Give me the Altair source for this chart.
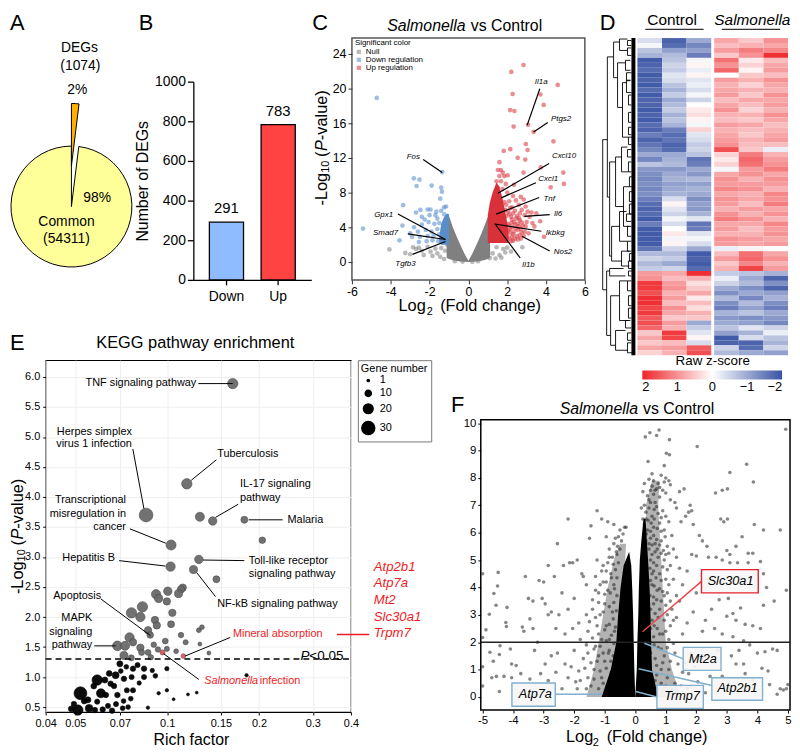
import altair as alt
import pandas as pd

FONT = "Liberation Sans"
ONE = alt.Data(values=[{}])

# ---------- A
pie_start = [0, 1074]
pie_end = [1074, 55385]
# ---------- B
deg_names = ["Down", "Up"]
deg_counts = [291, 783]
# ---------- C
c_up = [(2.84,22.7),(2.21,21.9),(4.6,20.4),(2.28,19.35),(3.71,19.3),(3.88,18.1),(2.15,17.5),(2.37,17.4),(2.33,15.6),(3.07,15.8),(3.36,15.0),(4.38,13.9),(2.96,13.6),(2.16,13.0),(1.82,12.8),(3.05,12.9),(2.54,12.0),(2.93,11.8),(1.6,11.5),(3.73,10.9),(2.84,10.3),(4.89,10.3),(4.92,9.0),(4.24,8.6),
(1.52,10.6),(1.68,10.6),(1.77,10.3),(1.6,9.9),(1.85,9.9),(2.02,10.0),(1.45,9.3),(1.68,9.3),(1.93,9.0),(2.35,8.9),(1.5,8.6),(1.75,8.4),(1.42,8.2),(2.0,8.0),(2.3,7.6),(2.45,7.1),(2.7,7.5),(2.85,7.2),(2.1,7.0),(1.85,6.9),(2.6,6.6),(2.95,6.4),(2.25,6.3),(1.9,6.0),(2.4,5.9),(2.75,6.0),(3.05,5.8),(3.25,5.7),(3.5,5.6),(2.1,5.5),(2.5,5.3),(2.9,5.4),(3.15,5.2),(1.85,5.0),(2.25,4.9),(2.65,4.8),(3.0,4.6),(3.3,4.5),(3.7,4.7),(2.0,4.4),(2.4,4.3),(2.8,4.2),(1.8,3.9),(2.15,3.8),(2.55,3.7),(2.9,3.5),(3.1,3.3),(1.9,3.3),(2.3,3.2),(2.65,3.1),(2.85,3.0),(3.9,2.9),(2.0,2.8),(2.4,2.7),(1.75,2.6),(2.2,2.4),(1.85,4.6),(2.6,4.1),(2.05,3.6),(2.45,5.0),(1.75,5.4),(3.4,4.1),(2.75,3.4),(1.95,2.45),(2.55,2.6),
(1.95,6.6),(2.15,6.2),(2.05,5.8),(2.3,5.6),(2.65,5.6),(1.95,5.3),(2.2,5.2),(2.35,4.6),(2.55,4.4),(2.1,4.2),(2.25,4.0),(2.45,3.9),(2.7,3.8),(2.0,3.1),(2.15,3.4),(2.35,3.5),(2.5,3.0),(2.1,2.7),(2.25,2.9),(1.85,2.9),(2.3,2.45),(2.7,2.7),(1.7,3.5),(1.7,4.3),(1.7,5.1),(1.9,4.2),(2.75,4.55),(2.95,4.1),(2.6,5.05),(2.2,4.5)]
c_down = [(-4.72,18.9),(-1.35,10.36),(-2.81,9.64),(-2.52,9.49),(-2.67,8.76),(-1.89,8.8),(-1.4,8.57),(-1.36,8.1),(-1.45,7.3),(-3.36,6.55),(-2.47,6.0),(-2.1,6.05),(-1.95,6.05),(-1.4,5.9),(-1.65,5.8),(-1.25,6.3),(-1.15,6.4),(-2.7,5.7),(-2.4,5.2),(-2.0,5.4),(-1.6,5.0),(-5.43,3.85),(-3.4,4.2),(-2.8,4.0),(-2.4,4.3),(-2.05,4.6),(-1.75,4.4),(-1.5,4.5),(-3.0,3.3),(-2.6,3.5),(-2.2,3.7),(-1.9,3.5),(-1.6,3.8),(-3.55,2.5),(-2.9,2.9),(-2.5,2.9),(-2.1,3.0),(-1.8,3.0),(-1.5,3.2),(-2.55,2.3),(-2.15,2.4),(-1.85,2.5),(-1.55,2.4),(-1.7,5.4),(-2.25,4.9),(-1.25,5.5)]
c_null = [(-4.07,1.45),(-3.25,1.05),(-3.0,0.9),(-2.85,1.7),(-2.7,1.5),(-2.55,1.65),(-2.4,1.3),(-2.3,0.8),(-2.1,1.75),(-1.95,1.2),(-1.85,0.7),(-1.7,1.55),(-1.6,1.0),(-1.45,0.6),(-1.4,1.6),(-1.25,0.35),(-1.2,1.3),(-1.1,2.0),(1.1,0.45),(1.25,1.0),(1.4,0.4),(1.45,1.7),(1.6,0.8),(1.8,1.5),(1.9,1.1),(2.0,1.65),(2.2,1.2),(2.78,1.7),(1.7,0.5),(0.2,0.02),(-0.3,0.05),(0.5,0.1),(-0.7,0.1)]
c_null_x = [-1.12,-1.0,-0.8,-0.6,-0.4,-0.2,0.0,0.2,0.4,0.6,0.8,1.0,1.12]
c_null_top = [4.6,5.3,4.0,2.9,1.9,0.95,0.15,0.95,1.9,2.9,4.0,5.2,4.7]
c_null_bot = [0.5,0.35,0.2,0.12,0.06,0.02,0.0,0.02,0.06,0.12,0.2,0.35,0.5]
c_red_x = [1.0,1.1,1.25,1.45,1.6,1.75,1.9,2.05]
c_red_top = [5.4,6.8,8.0,9.2,8.6,7.4,5.8,3.8]
c_red_bot = [2.2,2.2,2.2,2.2,2.2,2.2,2.2,2.2]
c_blue_x = [-1.5,-1.4,-1.25,-1.1,-1.0]
c_blue_top = [2.9,4.4,5.2,5.6,5.5]
c_blue_bot = [2.2,2.0,2.0,2.0,2.0]
c_leaders = [(3.68,19.96,3.03,15.77),(4.09,16.08,3.36,14.97),(-2.33,11.81,-1.35,10.32),(4.16,11.35,1.52,7.92),(3.48,9.14,1.69,7.39),(3.65,7.43,1.43,5.52),(4.19,5.45,2.88,5.26),(3.76,3.54,1.35,4.38),(4.19,1.26,2.76,2.97),(2.67,0.46,1.38,4.38),(-3.63,5.52,-1.18,2.59),(-3.12,3.24,-1.18,2.59),(-2.88,0.88,-1.18,2.36)]
# ---------- D
hm_c1 = [-0.4,-0.1,-0.7,-0.9,-1.9,-1.8,-1.7,-1.9,-1.8,-1.9,-1.7,-1.9,-1.8,-1.8,-1.9,-1.8,-1.9,-1.7,-1.8,-1.5,-1.8,-1.6,-1.4,-1.0,-1.4,-0.7,-1.2,-1.3,-1.4,-1.3,-1.4,-1.3,-1.5,-1.7,-1.8,-1.7,-1.9,-1.5,-1.9,-1.9,-1.9,-1.9,-1.6,-0.8,-0.5,-0.8,-0.6,0.9,1.0,1.8,1.8,1.6,1.9,1.9,1.7,1.8,1.5,1.6,1.4,0.5,0.8,0.5,0.8,0.4]
hm_c2 = [-1.8,-1.7,-1.1,-0.8,-0.7,-0.5,-0.6,-0.3,-0.4,-0.7,-0.9,-0.6,-1.0,-0.8,-0.6,-0.9,-0.7,-0.9,-1.5,-1.7,-1.6,-1.8,-1.7,-1.0,-0.9,-0.8,-1.2,-1.0,-0.9,-1.1,-1.0,-0.9,-0.4,0.1,-0.3,-0.5,-0.1,-0.4,0.0,0.2,-0.1,0.1,-0.5,-0.8,-0.6,-1.0,-0.5,0.8,0.6,0.9,1.0,0.7,0.9,0.6,1.0,0.8,0.5,0.9,0.7,1.8,1.7,0.6,0.9,0.7]
hm_c3 = [-1.0,-1.4,-1.1,-1.5,-0.1,0.1,-0.2,0.1,-0.3,-0.2,-0.4,-0.1,-0.5,0.0,0.2,0.3,0.1,-0.1,0.4,-0.3,-0.4,-0.6,-0.5,-0.7,-1.6,-1.5,-1.0,-1.2,-0.8,-1.1,-0.9,-1.0,-1.3,-1.1,-1.2,-0.9,-0.3,-1.6,-1.5,-0.3,-0.1,-0.4,-1.0,-1.9,-1.8,-1.9,-1.7,1.9,0.7,0.3,0.5,0.8,0.2,0.6,0.3,0.7,0.5,-1.0,-0.6,-0.3,0.1,-0.4,1.5,1.6]
hm_s1 = [0.8,0.6,0.9,0.5,1.3,1.0,1.4,0.0,0.9,0.7,0.8,0.9,0.6,0.8,1.0,0.7,0.6,0.9,0.7,0.8,0.9,1.0,1.6,0.4,0.2,0.4,-0.1,0.8,1.0,0.9,1.1,0.8,1.0,0.9,0.7,1.0,1.2,0.8,0.9,0.7,1.0,0.9,-0.2,0.6,0.9,0.5,0.7,-0.6,-0.2,-0.5,-1.0,-1.3,-0.8,-1.3,-1.5,-0.9,-1.2,-1.0,-0.7,-1.1,-1.9,-1.8,-0.5,-0.8]
hm_s2 = [0.5,0.7,1.2,1.0,0.2,0.4,0.1,0.5,0.7,0.4,0.7,0.5,0.8,0.6,0.4,0.7,0.5,0.8,0.6,0.5,0.7,0.6,0.5,1.2,1.4,1.3,0.9,1.0,0.7,0.9,1.0,0.7,0.8,0.6,0.9,0.7,1.0,0.8,0.6,0.7,0.9,0.8,0.1,1.3,1.4,1.1,1.7,-0.7,-1.0,-0.8,-1.3,-1.0,-1.4,-0.8,-1.1,-0.7,-1.3,-1.1,-0.3,-0.9,-0.4,-1.8,-1.7,-1.0]
hm_s3 = [1.0,0.8,1.1,1.9,0.6,0.8,0.9,0.6,1.0,0.8,0.7,1.0,0.8,0.9,0.7,1.0,0.8,0.6,0.7,0.8,0.9,0.6,-0.2,0.7,0.9,1.0,1.2,0.8,1.0,0.9,0.7,1.1,1.0,1.2,0.8,1.0,0.7,1.1,0.9,1.0,0.8,0.9,0.0,0.8,1.0,0.7,0.9,-0.9,-1.8,-1.3,-1.8,-1.1,-0.9,-1.3,-1.5,-1.0,-1.2,-1.4,-0.5,-0.2,-0.7,-0.9,-0.5,-1.1]
dendro = [(35,20.5,50.8,30.3,31),(30.3,3.8,32.1,24,28),(24,0.8,8,18,20),(18,0.2,2.5,10,10),(20,5,14,12,15),(15,9,20,11,9),(28,25,44,22,26),(22,24,34,16,14),(16,22,27,10,9),(14,30,38,8,8),(26,38,45,18,16),(18,35,41,11,10),(16,43,46,8,8),(31,47,60,28,27),(28,46.5,48,14,12),(27,52,62,18,22),(18,49,57,10,9),(22,59,63,12,10),
(10,0.5,1.5,6,6),(10,2,3.5,6,6),(12,4.5,6.5,7,7),(11,7,8.6,6,7),(11,8.5,11,7,6),(9,11.5,13.5,6,6),(9,15,17,6,6),(9,18,19.5,6,6),(9,20,21.5,5,6),(10,22.5,24,6,6),(9,25,27,6,6),(8,28,30,5,5),(8,31,33,5,5),(8,33.5,35.5,5,5),(11,35.5,37,6,6),(10,38,40,6,6),(10,41,43,6,6),(8,43.5,45,5,5),(9,45,46.5,5,5),(9,47,48,5,6),(10,49,51,6,6),(9,52,54,5,6),(9,54.5,56.5,5,6),(12,57,58.5,7,6),(10,59.5,61,6,6),(10,61.5,63.5,6,5)]
# ---------- E
kegg_x = [.164,.116,.0853,.128,.141,.179,.205,.103,.127,.1026,.122,.145,.1125,.111,.109,.1005,.092,.0938,.0998,.083,.0764,.0817,.104,.103,.0912,.0925,.0866,.088,.0753,.127,.13,.111,.115,.0986,.128,.137,.107,.0998,.0904,.0933,.0687,.0728,.0773,.0817,.0866,.0884,.0722,.0763,.0825]
kegg_y = [5.89,4.22,3.70,3.67,3.60,3.62,3.28,3.20,2.96,2.84,2.79,2.63,2.49,2.46,2.39,2.43,2.38,2.31,2.26,2.17,2.07,2.0,2.07,1.88,1.95,1.86,1.78,1.70,1.66,1.78,1.83,1.70,1.58,1.60,1.55,1.40,1.43,1.47,1.54,1.46,1.52,1.52,1.58,1.49,1.41,1.33,1.36,1.32,1.41]
kegg_n = [22,22,33,18,16,12,11,21,16,19,15,12,13,13,15,16,19,16,13,22,22,19,13,12,13,13,13,11,19,6,6,8,7,9,4,4,6,7,8,8,20,18,13,13,9,8,15,10,10]
red_x = [.0966,.113]
red_y = [1.41,1.35]
red_n = [7,6]
black_x = [.052,.051,.059,.0555,.0607,.0646,.0678,.07,.0773,.084,.0722,.0653,.063,.059,.0687,.0738,.0773,.084,.0915,.0894,.0998,.0938,.0998,.105,.117,.125,.0865,.182,.0765,.08,.0735,.0705,.067,.0625,.0575,.055,.0535,.0485,.0495,.058,.064,.068,.072,.076,.081,.0745,.0715,.066,.0615]
black_y = [.73,.45,.95,.48,.73,1.06,1.03,1.22,1.14,1.14,.97,.89,.70,.59,.70,.78,.78,1.0,1.02,1.11,1.14,.73,.78,.63,.71,.74,.49,1.03,1.0,1.2,1.17,1.1,.85,.95,.85,.62,.6,.47,.55,.45,.52,.55,.6,.64,.9,.5,.48,.44,.46]
black_n = [30,22,22,14,18,9,12,10,8,8,8,8,8,7,8,7,7,7,6,5,5,3,3,2,2,2,3,3,7,7,6,6,8,10,9,10,9,9,8,8,7,7,6,6,5,6,6,8,8]
legend_n = [1,10,20,30]
e_leaders = [(.1265,5.89,.164,5.89),(.0772,4.80,.0839,3.81),(.145,4.62,.12,4.28),(.171,3.88,.144,3.66),(.185,3.62,.239,3.62),(.0755,3.47,.099,3.23),(.0696,2.94,.0986,2.85),(.131,2.95,.179,2.94),(.125,2.74,.144,2.34),(.0607,2.30,.0882,1.69),(.0577,1.52,.0678,1.52),(.0973,1.39,.127,.96),(.1145,1.35,.161,1.66)]
# ---------- F
f_pts = [(0.33,9.5),(0.48,9.65),(0.7,9.55),(0.78,9.75),(1.12,9.4),(1.02,8.9),(1.12,8.85),(2.03,9.15),(4.93,9.78),(0.42,8.6),(0.95,8.45),(3.65,8.5),(3.87,7.85),(3.1,8.2),(0.55,8.15),(0.85,8.1),(1.0,8.0),(1.1,7.9),(1.6,7.6),(1.45,7.5),(2.63,7.45),(2.85,7.55),(3.02,7.6),(1.85,6.8),(1.8,7.0),(0.6,7.9),(0.75,7.8),(0.95,7.85),(1.15,7.75),(0.25,7.5),(0.4,7.35),(0.6,7.4),(0.8,7.3),(1.15,7.2),(1.3,7.1),(1.35,6.9),(1.65,6.6),(1.75,6.75),(2.8,6.5),(3.02,6.5),(2.9,6.4),(3.9,6.3),(4.75,6.1),(4.2,6.1),(1.5,6.4),(1.9,6.3),(2.1,5.9),(2.2,5.7),(2.35,5.5),(3.5,5.85),(3.3,5.5),(3.0,5.35),(3.1,5.2),(3.7,5.25),(3.85,5.25),(1.85,5.2),(2.0,5.15),(2.4,5.1),(2.65,5.1),(2.85,5.0),(3.1,4.9),(3.35,4.9),(3.7,4.9),(4.1,4.95),(4.2,4.5),(4.3,4.0),(4.95,3.9),(4.55,3.5),(4.2,3.35),(3.05,3.6),(3.2,3.05),(2.75,3.55),(3.45,3.25),(3.0,2.95),(3.3,2.8),(3.6,2.65),(3.85,2.6),(4.1,2.5),(1.7,4.6),(2.4,4.3),(1.55,4.1),(2.0,3.8),(1.45,3.5),(2.5,3.2),(2.3,2.8),(2.6,2.5),(2.2,2.4),(2.85,2.3),(1.9,3.1),(1.7,2.7),(1.35,2.9),(1.55,2.3),(3.2,2.2),(3.55,2.05),(3.4,1.7),(3.75,1.9),(4.0,1.6),(4.25,1.65),(4.15,1.05),(4.35,0.95),(4.5,1.75),(4.65,1.7),(3.15,1.5),(3.3,1.2),(3.55,1.2),(3.6,0.85),(3.85,0.6),(4.4,0.45),(4.65,0.1),(4.95,0.3),(5.0,0.45),(4.85,0.25),(4.75,0.3),(2.7,1.7),(2.2,1.4),(1.3,1.6),(1.4,1.2),(1.55,0.9),(1.3,0.5),(2.45,0.75),(2.85,0.75),(3.05,0.3),(2.3,0.15),
(-5.0,4.5),(-4.49,4.55),(-4.63,3.78),(-4.51,4.05),(-4.56,3.35),(-4.2,3.27),(-4.78,3.02),(-4.24,2.72),(-4.22,2.57),(-4.89,2.45),(-5.0,2.17),(-4.43,1.87),(-4.76,1.63),(-4.09,1.75),(-4.65,1.3),(-4.45,1.55),(-5.0,1.1),(-4.05,1.2),(-3.9,1.15),(-4.7,0.7),(-4.55,0.75),(-4.3,0.75),(-4.05,0.7),(-3.75,0.85),(-4.45,0.2),(-3.45,0.65),(-3.75,0.15),(-5.0,0.4),(-3.7,2.55),(-3.65,2.4),(-3.6,4.4),(-3.5,3.6),(-3.45,2.85),(-3.35,3.5),(-3.35,2.5),(-3.2,2.0),(-3.0,4.2),(-3.15,4.25),(-3.05,3.6),(-2.95,3.4),(-2.85,3.0),(-2.75,3.1),(-2.85,4.8),(-2.65,4.4),(-2.35,4.8),(-2.55,5.6),(-2.2,6.5),(-2.15,4.9),(-2.05,4.9),(-1.9,5.0),(-1.75,4.5),(-1.7,4.4),(-2.5,3.0),(-2.4,3.8),(-2.2,3.2),(-2.0,3.6),(-1.85,2.7),(-2.6,2.5),(-2.3,2.3),(-2.05,2.5),(-1.6,4.1),(-1.5,5.8),(-1.45,6.25),(-1.25,6.8),(-1.1,6.5),(-0.9,6.4),(-0.7,6.3),(-0.95,5.85),(-1.25,5.0),(-1.3,4.4),(-1.05,4.8),(-0.85,5.4),(-0.65,5.8),(-0.5,6.1),(-0.3,6.2),(-0.75,5.1),(-1.6,3.0),(-1.4,3.2),(-1.2,3.8),(-1.55,2.4),(-1.25,2.6),(-1.7,1.4),(-2.0,1.7),(-2.3,1.2),(-2.55,1.6),(-2.75,1.5),(-2.95,1.2),(-3.3,1.7),(-3.1,0.85),(-2.85,0.6),(-2.6,0.9),(-2.2,0.7),(-1.85,0.95),(-1.55,0.7),(-1.45,0.4),(-1.9,0.3),(-2.4,0.3),(-1.2,1.5),(-1.0,1.3),(-1.05,0.5),(-1.0,3.4),(-0.95,2.6),(-0.9,3.9),(-0.85,2.1),(-0.8,4.5),(-0.75,3.1),(-1.1,2.1),(-1.05,4.2),(-0.95,4.6),(-0.7,4.1),(-0.68,2.4),(-0.62,5.3),(-0.58,5.5),(-0.5,5.4),(-0.88,1.6),(-0.78,0.9),(-0.92,0.4),(-0.72,1.5),(-1.15,3.0),(-1.35,1.0),(-1.6,1.9),(-1.8,2.1),
(0.45,6.9),(0.55,6.6),(0.7,6.95),(0.9,6.8),(1.0,6.6),(0.6,6.2),(0.8,6.35),(0.95,6.1),(1.1,6.4),(1.2,5.9),(0.5,5.8),(0.65,5.6),(0.85,5.7),(1.05,5.5),(1.25,5.4),(0.55,5.2),(0.75,5.1),(0.95,5.0),(1.15,4.8),(1.35,5.1),(0.6,4.6),(0.8,4.5),(1.0,4.3),(1.25,4.3),(1.45,4.7),(0.55,4.1),(0.72,3.9),(0.95,3.7),(1.15,3.5),(1.35,3.7),(0.6,3.4),(0.8,3.2),(1.05,3.0),(1.25,2.8),(0.55,2.8),(0.72,2.5),(0.9,2.3),(1.1,2.1),(0.6,2.2),(0.75,1.8),(0.95,1.5),(1.15,1.3),(0.65,1.4),(0.85,1.0),(1.05,0.7),(0.7,0.8),(0.45,7.2),(0.65,7.1),(0.3,7.0),(0.5,7.55),(0.7,7.6),(0.35,6.5),(0.4,6.1),(0.45,5.6),(0.3,6.0),(0.25,6.5),(0.2,6.9),(0.35,5.7),
(0.3,7.8),(0.45,7.95),(0.55,7.7),(0.65,7.55),(0.8,7.65),(0.9,7.55),(1.0,7.45),(0.5,7.1),(0.62,6.85),(0.75,6.7),(0.85,6.55),(0.35,6.75),(0.42,6.45),(0.52,6.35),(0.62,6.5),(0.72,6.15),(0.85,6.05),(0.98,5.85),(0.3,6.3),(0.36,5.95),(0.5,6.05),(0.6,5.9),(0.7,5.75),(0.8,5.55),(0.92,5.35),(1.1,5.25),(0.45,5.4),(0.55,5.55),(0.65,5.3),(0.72,5.4),(0.85,5.25),(1.0,5.2),(0.5,5.0),(0.6,4.9),(0.7,4.8),(0.9,4.75),(1.05,4.65),(0.48,4.7),(0.55,4.5),(0.68,4.35),(0.85,4.25),(1.1,4.1),(0.5,4.25),(0.62,4.05),(0.8,3.95),(0.9,3.85),(1.05,3.8),(0.48,3.7),(0.6,3.65),(0.7,3.55),(0.85,3.5),(1.0,3.35),(1.2,3.2),(0.5,3.2),(0.65,3.05),(0.75,2.9),(0.95,2.8),(1.15,2.6),(0.5,2.5),(0.62,2.6),(0.8,2.3),(1.0,2.4),(0.5,2.0),(0.62,1.9),(0.85,1.75),(1.05,1.8),(1.25,1.95),(0.5,1.6),(0.7,1.15),(0.9,1.25),(1.1,1.0),(1.0,0.4),(0.85,0.5),(0.75,0.3),(1.2,0.25),(0.65,0.6),(1.35,0.2),(1.5,0.4),(1.7,0.3),(1.75,0.85),(1.65,1.25),(1.8,1.6),(1.95,1.1),(2.05,0.55),
(-0.35,6.2),(-0.4,5.95),(-0.55,5.85),(-0.7,5.6),(-0.85,5.1),(-0.45,5.7),(-0.6,5.2),(-0.72,4.85),(-0.9,4.9),(-1.1,4.6),(-0.55,4.9),(-0.65,4.65),(-0.78,4.35),(-0.95,4.2),(-1.15,4.1),(-1.3,3.9),(-0.6,4.35),(-0.68,3.95),(-0.82,3.8),(-1.0,3.75),(-1.2,3.45),(-1.4,3.55),(-0.6,3.7),(-0.7,3.45),(-0.85,3.3),(-1.05,3.1),(-1.3,2.9),(-1.5,2.75),(-0.62,3.15),(-0.72,2.85),(-0.85,2.65),(-1.0,2.45),(-1.2,2.3),(-1.4,2.15),(-0.65,2.55),(-0.78,2.25),(-0.95,2.05),(-1.15,1.85),(-1.35,1.75),(-1.55,1.6),(-0.7,1.95),(-0.85,1.7),(-1.05,1.6),(-1.25,1.3),(-1.45,1.25),(-0.8,1.3),(-0.95,1.05),(-1.15,0.95),(-1.35,0.65),(-1.65,1.05),(-1.8,0.6),(-1.6,0.3),(-1.2,0.3),(-2.1,1.1),(-1.95,0.55),(-1.3,1.85),(-1.1,0.7)]
f_l_y = [0,1,2,3,4,4.8,5.3]
f_l_a = [-1.1,-0.8,-0.62,-0.56,-0.48,-0.38,-0.2]
f_l_b = [0,-0.03,-0.05,-0.07,-0.1,-0.13,-0.2]
f_r_y = [0,1,2,3,4,5,5.7,6.5]
f_r_a = [0,0.05,0.07,0.1,0.12,0.15,0.2,0.27]
f_r_b = [0.75,0.55,0.52,0.5,0.47,0.42,0.38,0.34]
f_ml_y = [0,1,2,3,4,5,5.6]
f_ml_a = [-1.6,-1.35,-1.2,-1.05,-0.9,-0.7,-0.5]
f_ml_b = [-0.9,-0.7,-0.55,-0.5,-0.42,-0.33,-0.3]
f_mr_y = [0,1,2,3,4,5,6,7,7.9]
f_mr_a = [0.5,0.45,0.44,0.42,0.4,0.38,0.36,0.35,0.55]
f_mr_b = [1.5,1.2,1.0,0.95,0.9,0.85,0.8,0.75,0.8]
f_boxes_blue = [(1.57,1.81,2.81,0.97),(2.51,0.70,4.17,-0.12),(0.71,0.42,2.23,-0.42),(-4.04,0.51,-2.62,-0.34)]
f_box_red = [(2.17,4.65,4.03,3.80)]
f_lines_blue = [(1.57,1.39,0.30,1.96),(2.51,0.42,0.11,1.03),(0.71,0,0.02,0.2),(-2.62,0.10,-1.08,0.10)]
f_lines_red = [(2.18,4.23,0.24,2.38)]


def T(text, x, y, size=11, align="center", color="black", style="normal", angle=0, baseline="middle"):
    return alt.Chart(ONE).mark_text(text=text, align=align, baseline=baseline, fontSize=size, font=FONT,
                                    fontStyle=style, color=color, angle=angle).encode(x=alt.value(x), y=alt.value(y))


def tab(**k):
    return pd.DataFrame(k)


def segs(rows):
    return pd.DataFrame(rows, columns=["x", "y", "x2", "y2"])


def lines(rows, X, Y, color="black", w=1.0, dash=None):
    kw = {"strokeDash": dash} if dash else {}
    return alt.Chart(segs(rows)).mark_rule(color=color, strokeWidth=w, **kw).encode(
        x=X("x"), x2="x2:Q", y=Y("y"), y2="y2:Q")


def spacer(w, h=10):
    return alt.Chart(ONE).mark_point(opacity=0, size=1).encode(x=alt.value(3), y=alt.value(3)).properties(width=w, height=h)


def chan(cls, scale, axis):
    return lambda field: cls(field + ":Q", scale=scale, axis=axis)


# ---- Panel A
th = alt.Scale(domain=[0, pie_end[1]], range=[0, 6.28318])
pie_big = alt.Chart(tab(a=[pie_end[0]], b=[pie_end[1]])).mark_arc(radius=61, color="#ffff99", stroke="black", strokeWidth=1).encode(
    theta=alt.Theta("a:Q", scale=th), theta2="b:Q", x=alt.value(62), y=alt.value(170))
pie_small = alt.Chart(tab(a=[pie_start[0]], b=[pie_end[0]])).mark_arc(radius=63, color="#ffb000", stroke="black", strokeWidth=1).encode(
    theta=alt.Theta("a:Q", scale=th), theta2="b:Q", x=alt.value(62), y=alt.value(129))
A = alt.layer(pie_big, pie_small, T("A", 0, -15, 22, "left"), T("DEGs", 70, 10, 14), T("(1074)", 71, 28, 14), T("2%", 68, 52, 14),
              T("98%", 88, 161, 14), T("Common", 57, 186, 14), T("(54311)", 57, 203, 14)).properties(width=185, height=244)

# ---- Panel B
bdf = tab(name=deg_names, n=deg_counts)
bx = alt.X("name:N", scale=alt.Scale(domain=deg_names, paddingInner=0.34, paddingOuter=0.31),
           axis=alt.Axis(title=None, labelAngle=0, labelFontSize=14, labelColor="black", tickColor="black", domainColor="black",
                         domainWidth=1.3, tickWidth=1.3, tickSize=5, labelPadding=5, labelFont=FONT))
by = alt.Y("n:Q", scale=alt.Scale(domain=[0, 1000], range=[244, 44]),
           axis=alt.Axis(title="Number of DEGs", values=[0, 200, 400, 600, 800, 1000], grid=False, labelFontSize=14, labelColor="black",
                         tickColor="black", domainColor="black", domainWidth=1.3, tickWidth=1.3, tickSize=6, titleFontSize=16,
                         titleFontWeight="normal", titleColor="black", titlePadding=4, labelFont=FONT, titleFont=FONT, labelPadding=2,
                         format="d"))
bars = alt.Chart(bdf).mark_bar(stroke="black", strokeWidth=1.3).encode(
    x=bx, y=by, color=alt.Color("name:N", scale=alt.Scale(domain=deg_names, range=["#8fbcff", "#ff4242"]), legend=None))
blab = alt.Chart(bdf).mark_text(dy=-14, fontSize=15, font=FONT, color="black").encode(x=bx, y=by, text="n:Q")
B = alt.layer(bars, blab, T("B", -55, -15, 22, "left")).properties(width=119, height=244)

# ---- Panel C
cxs = alt.Scale(domain=[-6, 6], nice=False)
cys = alt.Scale(domain=[-2.06, 25.8], nice=False)
cax = dict(grid=False, labelFontSize=12.5, labelColor="black", tickColor="#333", domain=False, labelFont=FONT, title=None,
           labelExpr="''+datum.value", labelFlush=False, tickSize=4)
CX = chan(alt.X, cxs, alt.Axis(values=list(range(-6, 7, 2)), **cax))
CY = chan(alt.Y, cys, alt.Axis(values=list(range(0, 25, 4)), **cax))
c_rows = ([("Null", x, y) for x, y in c_null] + [("Down regulation", x, y) for x, y in c_down] + [("Up regulation", x, y) for x, y in c_up])
cpts = alt.Chart(pd.DataFrame(c_rows, columns=["g", "x", "y"])).mark_circle(size=22, opacity=0.55).encode(
    x=CX("x"), y=CY("y"),
    color=alt.Color("g:N", scale=alt.Scale(domain=["Null", "Down regulation", "Up regulation"], range=["#7f7f7f", "#4f86cc", "#d92f38"]),
                    legend=alt.Legend(title="Significant color", orient="none", legendX=3, legendY=1, titleFontSize=8, labelFontSize=8,
                                      titleFontWeight="normal", titleFont=FONT, labelFont=FONT, symbolSize=18, symbolType="square",
                                      rowPadding=0, titlePadding=1, titleColor="black", labelColor="black", labelOffset=3, symbolOffset=0)))


def carea(xs, top, bot, col):
    return alt.Chart(tab(x=xs, t=top, b=bot)).mark_area(color=col, opacity=1).encode(x=CX("x"), y=CY("t"), y2="b:Q")


C = alt.layer(cpts, carea(c_null_x, c_null_top, c_null_bot, "#808080"), carea(c_blue_x, c_blue_top, c_blue_bot, "#5b8cca"),
              carea(c_red_x, c_red_top, c_red_bot, "#d8313a"), lines(c_leaders, CX, CY, "black", 1.2),
              T("C", -40, -15, 22, "left"), T("Salmonella", 114.7, -12, 16, "right", style="italic"), T("vs Control", 120, -12, 16, "left"),
              T("Il1a", 191, 44, 8, style="italic"), T("Ptgs2", 211, 82, 8, style="italic"), T("Cxcl10", 214, 119, 8, style="italic"),
              T("Cxcl1", 198, 142, 8, style="italic"), T("Tnf", 199, 162, 8, style="italic"), T("Il6", 208, 178, 8, style="italic"),
              T("Ikbkg", 205, 197, 8, style="italic"), T("Nos2", 213, 216, 8, style="italic"), T("Il1b", 178, 229, 8, style="italic"),
              T("Fos", 62, 120, 8, style="italic"), T("Gpx1", 32, 179, 8, style="italic"), T("Smad7", 34, 197, 8, style="italic"),
              T("Tgfb3", 54, 228, 8, style="italic"),
              T("Log", 47, 270, 16.5, "left"), T("2", 75.5, 276, 11, "left"), T("(Fold change)", 89, 270, 16.5, "left"),
              T("-Log", -30, 169, 16.5, "left", angle=270), T("10", -26, 136, 11, "left", angle=270), T("(", -30, 120, 16.5, "left", angle=270),
              T("P", -30, 114, 16.5, "left", style="italic", angle=270), T("-value)", -30, 103, 16.5, "left", angle=270),
              ).properties(width=235, height=244, view=alt.ViewBackground(stroke="#555", strokeWidth=1.5))

# ---- Panel D
dseg = []
for h, r1, r2, c1, c2 in dendro:
    dseg += [(h, r1, h, r2), (h, r1, c1, r1), (h, r2, c2, r2)]
dxs = alt.Scale(domain=[35, 0], nice=False)
dys = alt.Scale(domain=[0, 64], nice=False, range=[0, 320])
DX = chan(alt.X, dxs, None)
DY = chan(alt.Y, dys, None)
band = alt.Chart(tab(a=[2], b=[6], r1=[0], r2=[64])).mark_rect(color="black").encode(x=DX("a"), x2="b:Q", y=DY("r1"), y2="r2:Q")
Dn = alt.layer(band, lines(dseg, DX, DY, "black", 0.9), T("D", -3, -15, 22, "left")).properties(width=35, height=320)

hm_cols = [hm_c1, hm_c2, hm_c3, hm_s1, hm_s2, hm_s3]
hm_left = [0, 1, 2, 3.12, 4.12, 5.12]
hm_rows = []
for j, col in enumerate(hm_cols):
    for r, v in enumerate(col):
        hm_rows.append((hm_left[j], hm_left[j] + 1, r, r + 1, -v))
hmdf = pd.DataFrame(hm_rows, columns=["a", "b", "r1", "r2", "nz"])
hxs = alt.Scale(domain=[0, 6.12], nice=False)
HX = chan(alt.X, hxs, None)
hm = alt.Chart(hmdf).mark_rect().encode(
    x=HX("a"), x2="b:Q", y=DY("r1"), y2="r2:Q",
    color=alt.Color("nz:Q", scale=alt.Scale(domain=[-2, 0, 2], range=["#ee2428", "#ffffff", "#3953a4"], interpolate="rgb"),
                    legend=alt.Legend(title="Raw z-score", orient="none", direction="horizontal", legendX=5, legendY=319, gradientLength=141,
                                      gradientThickness=9, titleFontSize=13.5, titleFontWeight="normal", titleFont=FONT, labelFont=FONT,
                                      labelFontSize=13, titleColor="black", labelColor="black", titleAnchor="middle", values=[-2, -1, 0, 1, 2],
                                      labelExpr="datum.value==0?'0':(datum.value<0?''+(-datum.value):'\u2212'+datum.value)", titlePadding=3)))
Hm = alt.layer(hm, lines([(0.32, -1.74, 2.69, -1.74), (3.43, -1.74, 5.8, -1.74)], HX, DY, "#333", 1.3),
               T("Control", 35, -18, 15.5), T("Salmonella", 116, -18, 15.5, style="italic")).properties(width=152, height=320)

# ---- Panel E
exs = alt.Scale(type="log", domain=[0.04, 0.4], nice=False)
eys = alt.Scale(domain=[0.417, 6.28], nice=False)
szs = alt.Scale(domain=[1, 10, 20, 30], range=[5, 38, 95, 170])
eax = dict(title=None, grid=True, gridColor="#eeeeee", labelFontSize=11, labelColor="black", tickColor="black", domain=False, labelFont=FONT, tickSize=3,
           labelFlush=False, labelPadding=3)
EX = chan(alt.X, exs, alt.Axis(values=[.04, .05, .07, .1, .15, .2, .3, .4], labelExpr="''+datum.value", **eax))
EY = chan(alt.Y, eys, alt.Axis(values=[.5, 1, 1.5, 2, 2.5, 3, 3.5, 4, 4.5, 5, 5.5, 6], format=".1f", **eax))
kdf = pd.DataFrame({
    "x": kegg_x + black_x + red_x, "y": kegg_y + black_y + red_y, "n": kegg_n + black_n + red_n,
    "k": ["sig"] * len(kegg_x) + ["ns"] * len(black_x) + ["mineral"] * len(red_x)})
egr = alt.Chart(kdf).mark_circle(opacity=0.95, strokeWidth=0.6).encode(
    x=EX("x"), y=EY("y"),
    color=alt.Color("k:N", scale=alt.Scale(domain=["sig", "ns", "mineral"], range=["#6a6a6a", "black", "#e4575c"]), legend=None),
    stroke=alt.Stroke("k:N", scale=alt.Scale(domain=["sig", "ns", "mineral"], range=["#444444", "black", "#555555"]), legend=None),
    size=alt.Size("n:Q", scale=szs, legend=alt.Legend(title="Gene number", orient="none", legendX=315, legendY=0, values=legend_n,
                  symbolFillColor="black", symbolStrokeColor="black", symbolOpacity=1, titleFontSize=11, labelFontSize=11, titleFontWeight="normal",
                  titleFont=FONT, labelFont=FONT, titleColor="black", labelColor="black", strokeColor="#777", fillColor="white", padding=3, rowPadding=1, titlePadding=1)))
RED = "#ee1c25"
E = alt.layer(egr, lines(e_leaders, EX, EY, "black", 1.0),
              lines([(0.04, 1.3, 0.4, 1.3)], EX, EY, "black", 1.4, [6, 4]),
              lines([(0.36, 1.71, 0.459, 1.71)], EX, EY, RED, 1.5),
              T("E", -36, -17, 22, "left"), T("KEGG pathway enrichment", 151, -17, 16.5),
              T("TNF signaling pathway", 152, 23, 11, "right"), T("Herpes simplex", 87, 72, 11, "right"), T("virus 1 infection", 87, 85, 11, "right"),
              T("Tuberculosis", 173, 95, 11, "left"), T("IL-17 signaling", 196, 125, 11, "left"), T("pathway", 196, 139, 11, "left"),
              T("Malaria", 244, 161, 11, "left"), T("Transcriptional", 81, 141, 11, "right"), T("misregulation in", 81, 155, 11, "right"),
              T("cancer", 81, 168, 11, "right"), T("Hepatitis B", 70, 200, 11, "right"), T("Toll-like receptor", 205, 203, 11, "left"),
              T("signaling pathway", 205, 216, 11, "left"), T("NF-kB signaling pathway", 173, 246, 11, "left"), T("Apoptosis", 56, 238, 11, "right"),
              T("MAPK", 47, 260, 11, "right"), T("signaling", 47, 274, 11, "right"), T("pathway", 47, 287, 11, "right"),
              T("Mineral absorption", 189, 276, 11, "left", RED), T("Salmonella", 160, 324, 11, "left", RED, "italic"), T("infection", 216, 324, 11, "left", RED),
              T("Atp2b1", 331, 209, 13.3, "left", RED, "italic"), T("Atp7a", 331, 225, 13.3, "left", RED, "italic"), T("Mt2", 331, 242, 13.3, "left", RED, "italic"),
              T("Slc30a1", 331, 259, 13.3, "left", RED, "italic"), T("Trpm7", 331, 275, 13.3, "left", RED, "italic"),
              T("P", 257, 299, 13.6, "left", style="italic"), T("<0.05", 266, 299, 13.6, "left"),
              T("Rich factor", 147, 383, 16, "center"),
              T("-Log", -28, 236, 16.5, "left", angle=270), T("10", -24, 203, 11, "left", angle=270), T("(", -28, 187, 16.5, "left", angle=270),
              T("P", -28, 181, 16.5, "left", style="italic", angle=270), T("-value)", -28, 170, 16.5, "left", angle=270),
              ).properties(width=308, height=355, view=alt.ViewBackground(stroke="black", strokeWidth=1.2))

# ---- Panel F
fxs = alt.Scale(domain=[-5.06, 5.07], nice=False)
fys = alt.Scale(domain=[-0.48, 10.13], nice=False)
fax = dict(title=None, grid=False, labelFontSize=11.5, labelColor="black", tickColor="black", domain=False, labelFont=FONT, tickSize=3,
           labelExpr="''+datum.value", labelFlush=False, labelPadding=2)
FX = chan(alt.X, fxs, alt.Axis(values=list(range(-5, 6)), **fax))
FY = chan(alt.Y, fys, alt.Axis(values=list(range(0, 11)), **fax))
fdf = pd.DataFrame(f_pts, columns=["x", "y"])
fpt = alt.Chart(fdf).mark_circle(size=13, color="#222222", opacity=0.55).encode(x=FX("x"), y=FY("y"))


def farea(ys, a, b, op):
    return alt.Chart(tab(y=ys, a=a, b=b)).mark_area(orient="horizontal", color="black", opacity=op).encode(y=FY("y"), x=FX("a"), x2="b:Q")


def boxes(rows, col):
    return alt.Chart(segs(rows)).mark_rect(fill="#f6f6f6", fillOpacity=0.92, stroke=col, strokeWidth=1.4).encode(
        x=FX("x"), x2="x2:Q", y=FY("y"), y2="y2:Q")


BL = "#7fb0cf"
F = alt.layer(farea(f_ml_y, f_ml_a, f_ml_b, 0.3), farea(f_mr_y, f_mr_a, f_mr_b, 0.3), fpt, farea(f_l_y, f_l_a, f_l_b, 1), farea(f_r_y, f_r_a, f_r_b, 1),
              lines([(-5.06, 2, 5.07, 2)], FX, FY, "#222", 1.5),
              lines(f_lines_blue, FX, FY, BL, 1.6), lines(f_lines_red, FX, FY, "#e8454a", 1.4),
              boxes(f_boxes_blue, BL), boxes(f_box_red, "#e8222a"),
              T("Slc30a1", 252, 163, 12.8, style="italic"), T("Mt2a", 224, 242, 12.8, style="italic"), T("Atp2b1", 259, 271, 12.8, style="italic"),
              T("Trmp7", 203, 279, 12.8, style="italic"), T("Atp7a", 55, 277, 12.8, style="italic"),
              T("F", -30, -15, 22, "left"), T("Salmonella", 158.7, -11, 16, "right", style="italic"), T("vs Control", 163.7, -11, 16, "left"),
              T("Log", 86, 320, 16.5, "left"), T("2", 113, 326, 11, "left"), T("(Fold change)", 127, 320, 16.5, "left"),
              ).properties(width=312, height=293, view=alt.ViewBackground(stroke="black", strokeWidth=1.5))

top_row = alt.hconcat(A, B, spacer(41), C, spacer(18), Dn, Hm, spacing=0, bounds="flush")
f_col = alt.vconcat(spacer(312, 60), F, spacing=0, bounds="flush")
bottom_row = alt.hconcat(spacer(36), E, spacer(131), f_col, spacing=0, bounds="flush").resolve_scale(size="independent").resolve_legend(size="independent")

chart = (alt.vconcat(top_row, bottom_row, spacing=325, bounds="flush").resolve_scale(size="independent").resolve_legend(size="independent")
         .properties(padding=0, background="white").configure(font=FONT).configure_view(stroke="transparent"))

chart.save("out.html", embed_options={"renderer": "svg", "actions": False})
